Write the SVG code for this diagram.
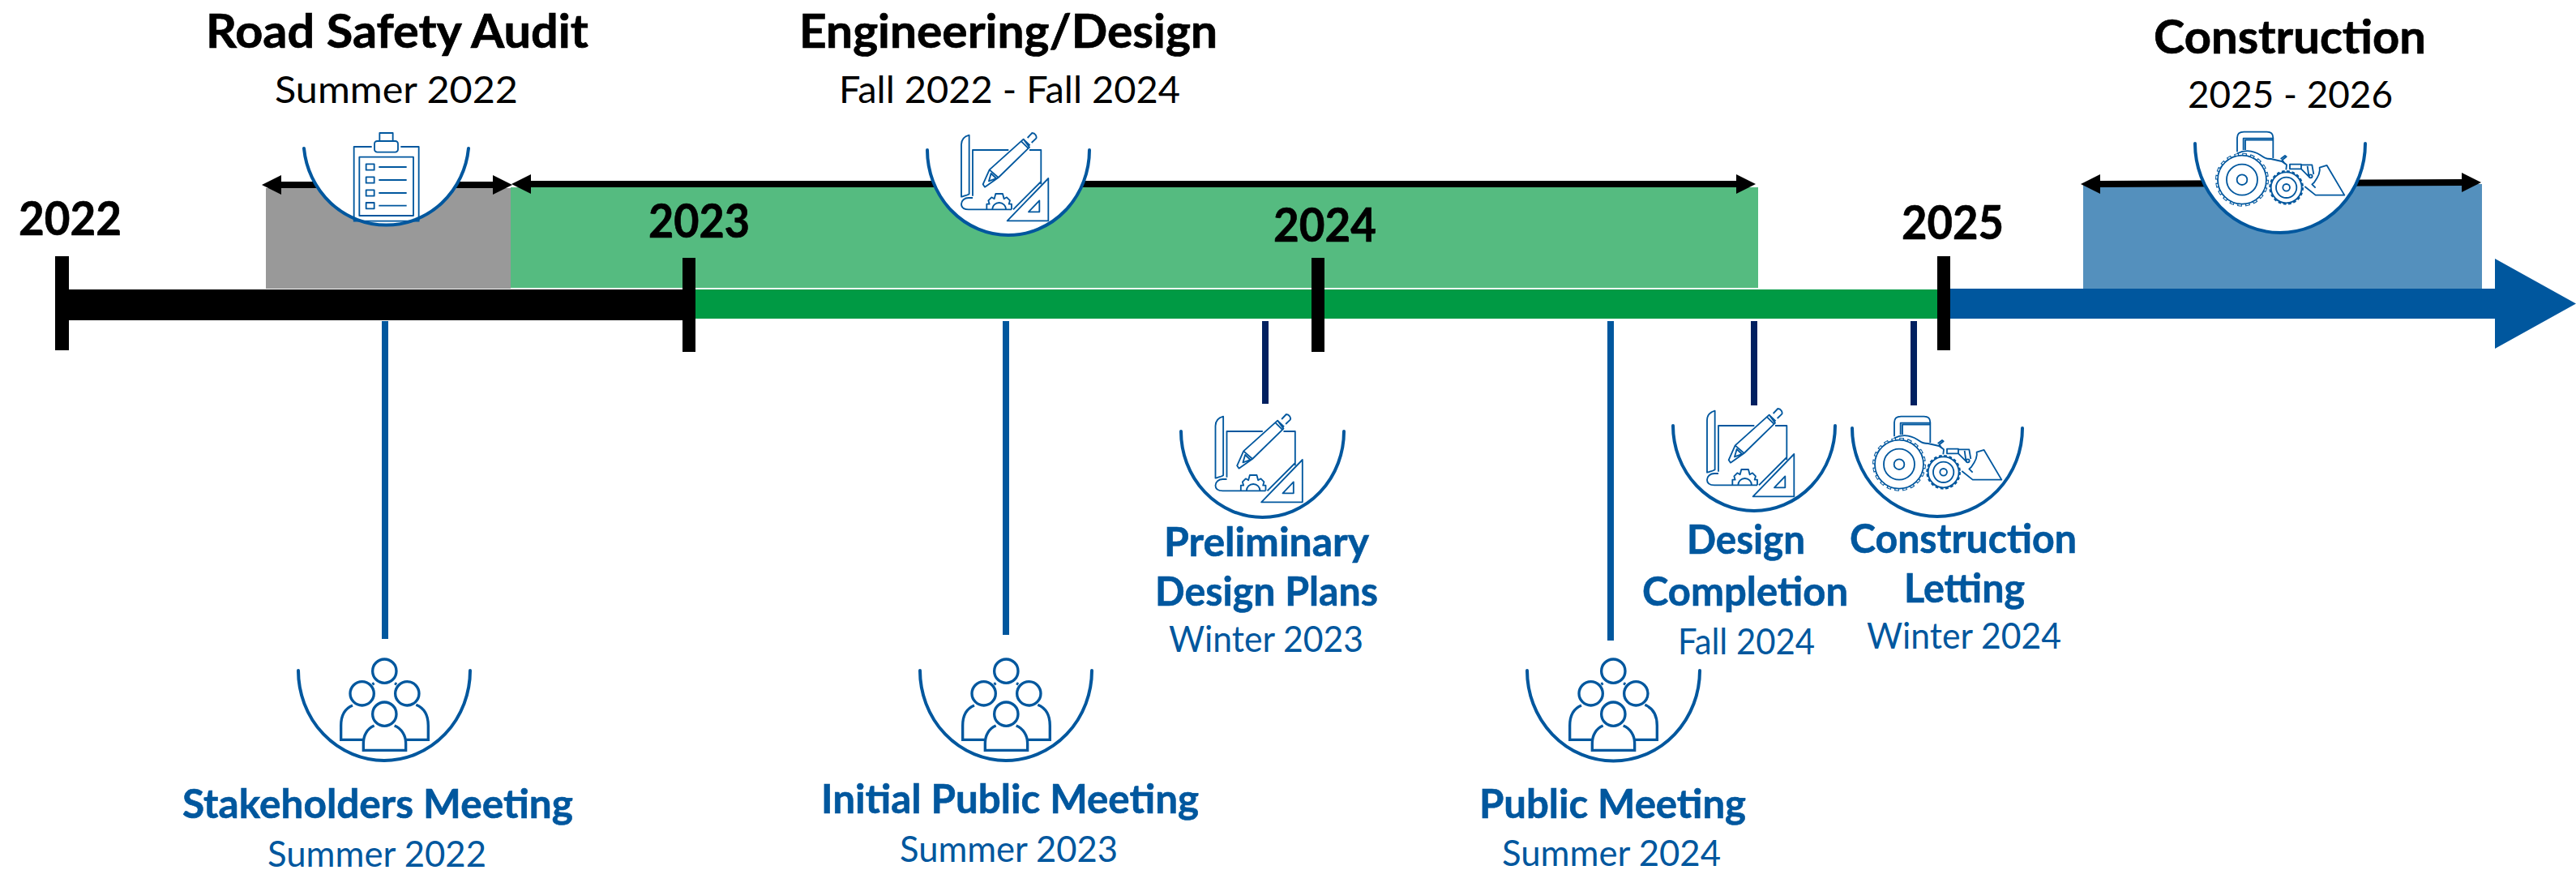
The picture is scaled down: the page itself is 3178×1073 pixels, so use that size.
<svg xmlns="http://www.w3.org/2000/svg" width="3178" height="1073" viewBox="0 0 3178 1073">
<style>
text{font-family:Lato,"Open Sans","Liberation Sans",sans-serif;text-anchor:start}
.t{font-weight:700;font-size:58px;fill:#000;stroke:#000;stroke-width:.7}
.s{font-size:47px;fill:#000}
.y{font-weight:700;font-size:58px;fill:#000;stroke:#000;stroke-width:.7}
.b{font-weight:700;font-size:49px;fill:#00579E;stroke:#00579E;stroke-width:.6}
.d{font-size:44px;fill:#00579E}
.arc{fill:#fff;stroke:#00579E;stroke-width:4;stroke-linecap:round}
.ic{fill:none;stroke:#00579E;stroke-width:5.500;stroke-linejoin:round}
.ppl{fill:none;stroke:#00579E;stroke-width:10}
.tick{fill:#000}
.lead{stroke:#00579E;stroke-width:8}
.navy{stroke:#002060;stroke-width:8}
.span{stroke:#000;stroke-width:8;marker-start:url(#ah);marker-end:url(#ah)}
</style>
<defs>
<marker id="ah" markerUnits="userSpaceOnUse" markerWidth="26" markerHeight="26" refX="1" refY="13" orient="auto-start-reverse" viewBox="0 0 26 26"><path d="M0 1L24 13L0 25z" fill="#000"/></marker>
<g id="i-clip" class="ic" transform="scale(.3333)">
<path d="M176 93H110V368H350V93H283"/><rect x="186" y="72" width="87" height="41" rx="10"/><rect x="205" y="42" width="49" height="30"/><rect x="130" y="131" width="200" height="217"/>
<rect x="155" y="157" width="30" height="22"/><rect x="155" y="205" width="30" height="22"/><rect x="155" y="253" width="30" height="22"/><rect x="155" y="300" width="30" height="22"/>
<path d="M202 168H305M202 216H305M202 264H305M202 311H305"/>
</g>
<g id="i-plan" class="ic" transform="scale(.3333)">
<path d="M287 80C268 85 258 95 258 115V308C270 305 280 303 287 298Z"/>
<path d="M300 305V135H433M510 135H553V262M300 312H285C270 312 258 322 258 335C258 348 268 355 285 355H444M450 355L553 252"/>
<path d="M352 355V335H362L358 322L370 310L380 316L385 297H411L416 316L426 310L438 322L434 335H444V355M373 355A25 25 0 0 1 423 355"/>
<path d="M580 240L428 397H580ZM547 322L507 364H547Z"/>
<path d="M338 262L362 208L488 95L510 125L395 237L345 272ZM362 208L395 237M368 222L387 240L360 250ZM480 103L505 128M490 97L512 118M503 90L520 72C532 72 538 85 535 92L518 108"/>
</g>
<g id="i-trac" class="ic" transform="scale(.3333)">
<path d="M135 112V60Q135 38 160 38H245Q268 38 268 60V135M158 105V62H268M165 105V68H268"/>
<path d="M135 118C170 100 205 110 230 130Q240 138 260 138L300 147L318 160L316 178M296 138L312 126L317 130L302 142Q305 150 318 160"/>
<circle cx="153" cy="215" r="90"/><circle cx="153" cy="215" r="57"/><circle cx="153" cy="215" r="19"/>
<circle cx="153" cy="215" r="94" stroke-width="10" stroke-dasharray="17 12.53"/>
<circle cx="153" cy="215" r="94" stroke="#fff" stroke-width="4" stroke-dasharray="10 19.53" stroke-dashoffset="-3.500"/>
<circle cx="317" cy="244" r="57" fill="#fff"/><circle cx="317" cy="244" r="38"/><circle cx="317" cy="244" r="13"/>
<circle cx="317" cy="244" r="60" stroke-width="8" stroke-dasharray="11 7.85"/>
<path d="M330 175H372V158H330ZM372 160H412L418 195M395 165L400 200M372 175L402 205M385 240L425 272H532L467 162L440 170Q445 190 420 225L412 232L425 245"/><circle cx="407" cy="202" r="6"/>
</g>
<g id="i-ppl" class="ppl" transform="scale(.3333)">
<circle cx="403" cy="143" r="44"/><circle cx="320" cy="226" r="44"/><circle cx="487" cy="226" r="44"/><circle cx="403" cy="302" r="44"/>
<path d="M285 270C260 280 242 305 242 345V397H325M520 268C550 280 565 305 565 345V397H482M365 345C340 355 325 380 325 410V436H482V410C482 380 465 355 440 345M365 188L358 192M441 188L448 192"/>
</g>
</defs>
<rect width="3178" height="1073" fill="#fff"/>
<g id="phase-bands">
<rect x="328" y="232" width="302" height="124" fill="#999"/>
<rect x="630" y="231" width="1539" height="124" fill="#55BB80"/>
<rect x="2570" y="227" width="492" height="129" fill="#5490BD"/>
</g>
<g id="timeline">
<rect x="85" y="357" width="757" height="38" fill="#000"/>
<rect x="858" y="357" width="1532" height="36" fill="#009A44"/>
<path d="M2406 356H3078V319L3178 374.500L3078 430V393H2406Z" fill="#00579E"/>
<rect class="tick" x="68" y="316" width="17" height="116"/>
<rect class="tick" x="842" y="318" width="16" height="116"/>
<rect class="tick" x="1618" y="318" width="16" height="116"/>
<rect class="tick" x="2390" y="316" width="16" height="116"/>
</g>
<g id="connectors">
<line class="span" x1="346" y1="228" x2="609" y2="228"/>
<line class="span" x1="654" y1="227" x2="2143" y2="227"/>
<line class="span" x1="2590" y1="227" x2="3038" y2="225"/>
<line class="lead" x1="475" y1="396" x2="475" y2="788"/>
<line class="lead" x1="1241" y1="396" x2="1241" y2="783"/>
<line class="lead" x1="1987" y1="396" x2="1987" y2="790"/>
<line class="navy" x1="1561" y1="396" x2="1561" y2="498"/>
<line class="navy" x1="2164" y1="396" x2="2164" y2="500"/>
<line class="navy" x1="2361" y1="396" x2="2361" y2="500"/>
</g>
<g id="years">
<text class="y" x="23" y="290" textLength="127" lengthAdjust="spacingAndGlyphs">2022</text>
<text class="y" x="800" y="293" textLength="125" lengthAdjust="spacingAndGlyphs">2023</text>
<text class="y" x="1571" y="298" textLength="127" lengthAdjust="spacingAndGlyphs">2024</text>
<text class="y" x="2346" y="295" textLength="126" lengthAdjust="spacingAndGlyphs">2025</text>
</g>
<g id="road-safety-audit">
<text class="t" x="254" y="59" textLength="472" lengthAdjust="spacingAndGlyphs">Road Safety Audit</text>
<text class="s" x="339" y="127" textLength="300" lengthAdjust="spacingAndGlyphs">Summer 2022</text>
<path class="arc" d="M375 183A102 105 0 0 0 578 183"/>
<use href="#i-clip" transform="translate(400,150)"/>
</g>
<g id="engineering-design">
<text class="t" x="986" y="59" textLength="516" lengthAdjust="spacingAndGlyphs">Engineering/Design</text>
<text class="s" x="1035" y="127" textLength="421" lengthAdjust="spacingAndGlyphs">Fall 2022 - Fall 2024</text>
<path class="arc" d="M1144 185A100 105 0 0 0 1344 185"/>
<use href="#i-plan" transform="translate(1100,140)"/>
</g>
<g id="construction">
<text class="t" x="2657" y="66" textLength="336" lengthAdjust="spacingAndGlyphs">Construction</text>
<text class="s" x="2699" y="133" textLength="253" lengthAdjust="spacingAndGlyphs">2025 - 2026</text>
<path class="arc" d="M2708 177A105 110 0 0 0 2918 177"/>
<use href="#i-trac" transform="translate(2715,150)"/>
</g>
<g id="stakeholders-meeting">
<path class="arc" d="M368 827A106 111 0 0 0 580 827"/>
<use href="#i-ppl" transform="translate(340,780)"/>
<text class="b" x="225" y="1009" textLength="482" lengthAdjust="spacingAndGlyphs">Stakeholders Meeting</text>
<text class="d" x="330" y="1069" textLength="270" lengthAdjust="spacingAndGlyphs">Summer 2022</text>
</g>
<g id="initial-public-meeting">
<path class="arc" d="M1135 827A106 111 0 0 0 1347 827"/>
<use href="#i-ppl" transform="translate(1107,780)"/>
<text class="b" x="1013" y="1003" textLength="466" lengthAdjust="spacingAndGlyphs">Initial Public Meeting</text>
<text class="d" x="1110" y="1063" textLength="269" lengthAdjust="spacingAndGlyphs">Summer 2023</text>
</g>
<g id="preliminary-design-plans">
<path class="arc" d="M1457 532A100.500 106 0 0 0 1658 532"/>
<use href="#i-plan" transform="translate(1413.500,487)"/>
<text class="b" x="1436" y="686" textLength="253" lengthAdjust="spacingAndGlyphs">Preliminary</text>
<text class="b" x="1425" y="747" textLength="275" lengthAdjust="spacingAndGlyphs">Design Plans</text>
<text class="d" x="1442" y="804" textLength="240" lengthAdjust="spacingAndGlyphs">Winter 2023</text>
</g>
<g id="public-meeting">
<path class="arc" d="M1884 827A106 111 0 0 0 2097 827"/>
<use href="#i-ppl" transform="translate(1856,780)"/>
<text class="b" x="1825" y="1009" textLength="329" lengthAdjust="spacingAndGlyphs">Public Meeting</text>
<text class="d" x="1853" y="1068" textLength="270" lengthAdjust="spacingAndGlyphs">Summer 2024</text>
</g>
<g id="design-completion">
<path class="arc" d="M2064 525A100 105 0 0 0 2264 525"/>
<use href="#i-plan" transform="translate(2020,480)"/>
<text class="b" x="2081" y="683" textLength="146" lengthAdjust="spacingAndGlyphs">Design</text>
<text class="b" x="2026" y="747" textLength="254" lengthAdjust="spacingAndGlyphs">Completion</text>
<text class="d" x="2070" y="807" textLength="169" lengthAdjust="spacingAndGlyphs">Fall 2024</text>
</g>
<g id="construction-letting">
<path class="arc" d="M2285 528A105 109 0 0 0 2495 528"/>
<use href="#i-trac" transform="translate(2292,501)"/>
<text class="b" x="2282" y="682" textLength="280" lengthAdjust="spacingAndGlyphs">Construction</text>
<text class="b" x="2349" y="743" textLength="149" lengthAdjust="spacingAndGlyphs">Letting</text>
<text class="d" x="2303" y="800" textLength="240" lengthAdjust="spacingAndGlyphs">Winter 2024</text>
</g>
</svg>
